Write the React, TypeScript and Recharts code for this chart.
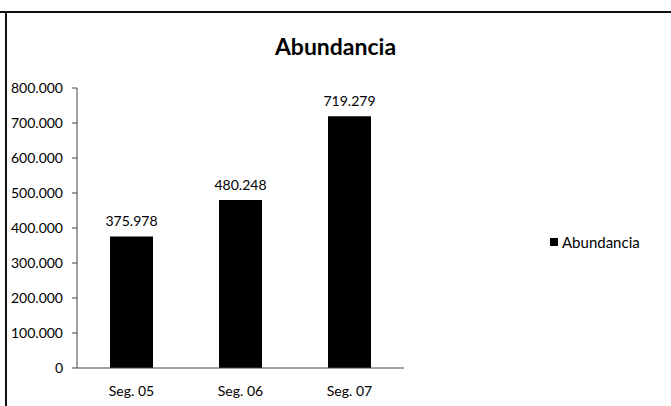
import React from "react";
import { BarChart, Bar, XAxis, YAxis, Legend, LabelList } from "recharts";

// Abundancia por segmento
const categories = ["Seg. 05", "Seg. 06", "Seg. 07"];
const abundancia = [375978, 480248, 719279];
const yTicks = [0, 100000, 200000, 300000, 400000, 500000, 600000, 700000, 800000];

const data = categories.map((name, i) => ({ name, abundancia: abundancia[i] }));

// formato con punto como separador de miles: 800000 -> "800.000"
const fmt = (v: number) =>
  String(Math.round(v)).replace(/\B(?=(\d{3})+(?!\d))/g, ".");

const FONT = "Lato, 'Open Sans', sans-serif";

function LegendBox() {
  return (
    <div style={{ display: "flex", alignItems: "center", fontFamily: FONT, fontSize: 15, color: "#000" }}>
      <span style={{ width: 8, height: 8, background: "#000", marginRight: 4, display: "inline-block" }} />
      Abundancia
    </div>
  );
}

export default function App() {
  return (
    <div style={{ position: "absolute", left: 0, top: 0, width: 671, height: 406, background: "#fff", overflow: "hidden" }}>
      {/* marco del gráfico */}
      <div style={{ position: "absolute", left: 0, top: 11, width: 671, height: 2, background: "#111" }} />
      <div style={{ position: "absolute", left: 5, top: 11, width: 2, height: 395, background: "#111" }} />
      <div
        style={{
          position: "absolute",
          left: 0,
          top: 32,
          width: 671,
          textAlign: "center",
          fontFamily: FONT,
          fontWeight: 700,
          fontSize: 23,
          color: "#000",
        }}
      >
        Abundancia
      </div>
      <BarChart
        width={671}
        height={406}
        data={data}
        margin={{ top: 88, right: 267, bottom: 8, left: 10 }}
        barCategoryGap="20%"
      >
        <XAxis
          dataKey="name"
          height={30}
          axisLine={{ stroke: "#444" }}
          tickLine={false}
          tick={{ fontSize: 14, fill: "#000", fontFamily: FONT }}
          tickMargin={12}
        />
        <YAxis
          width={67}
          domain={[0, 800000]}
          ticks={yTicks}
          tickFormatter={fmt}
          axisLine={{ stroke: "#444" }}
          tickLine={{ stroke: "#444" }}
          tickSize={5}
          tickMargin={9}
          tick={{ fontSize: 14, fill: "#000", fontFamily: FONT }}
        />
        <Legend
          layout="horizontal"
          align="center"
          verticalAlign="middle"
          content={<LegendBox />}
          wrapperStyle={{ left: 550, top: 233, width: 120 }}
        />
        <Bar dataKey="abundancia" name="Abundancia" fill="#000" barSize={43} isAnimationActive={false}>
          <LabelList
            dataKey="abundancia"
            position="top"
            offset={10}
            formatter={(v: any) => fmt(Number(v))}
            style={{ fontSize: 14, fill: "#000", fontFamily: FONT }}
          />
        </Bar>
      </BarChart>
    </div>
  );
}
